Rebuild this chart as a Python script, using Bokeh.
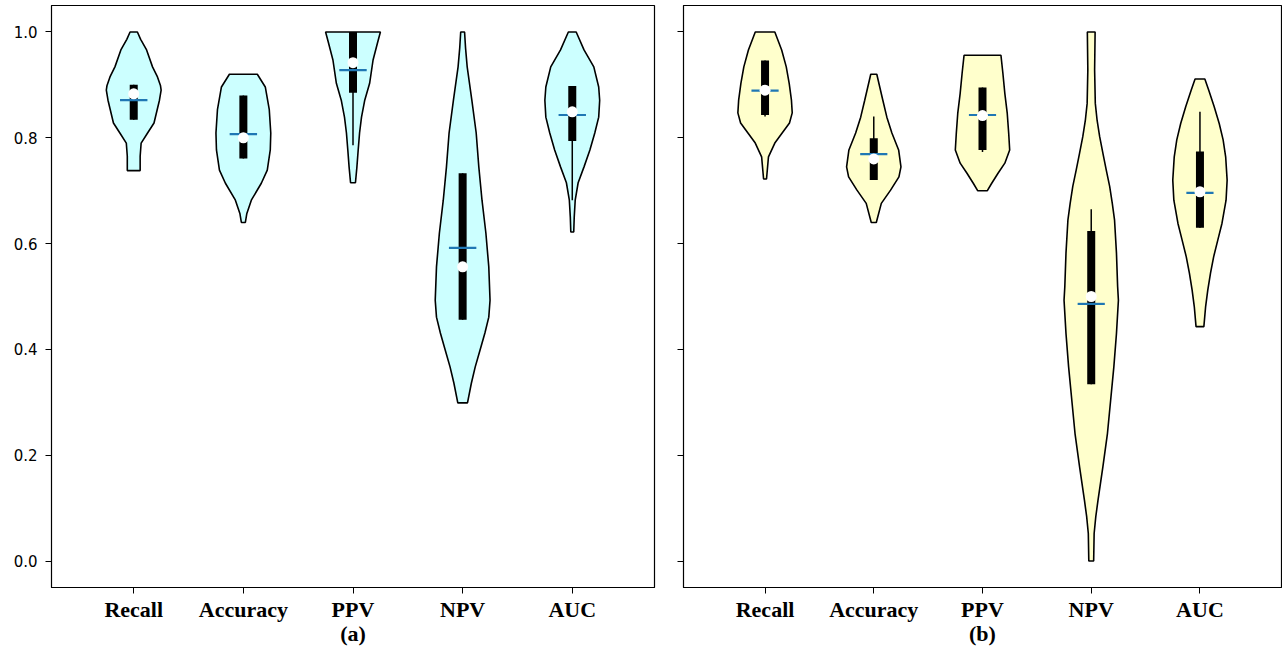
import numpy as np
from bokeh.plotting import figure
from bokeh.models import FixedTicker, PrintfTickFormatter, Range1d
from bokeh.layouts import row
from bokeh.embed import file_html
from bokeh.resources import INLINE

metrics = ["Recall", "Accuracy", "PPV", "NPV", "AUC"]
y_ticks = [0.0, 0.2, 0.4, 0.6, 0.8, 1.0]

# ---------- panel (a): violin profiles (value level, relative density) ----------
a_recall_y = [1.0, 0.986, 0.966, 0.934, 0.915, 0.899, 0.890, 0.871, 0.853, 0.828, 0.809, 0.790, 0.765, 0.738]
a_recall_d = [3.7, 7, 13, 19, 24, 27, 27.7, 26, 23.7, 20.5, 14, 7.5, 6.5, 6.5]
a_acc_y = [0.920, 0.896, 0.853, 0.809, 0.777, 0.739, 0.714, 0.682, 0.657, 0.640]
a_acc_d = [14, 22, 26, 27.5, 27, 24, 18, 8, 3.5, 2]
a_ppv_y = [1.0, 0.979, 0.947, 0.903, 0.871, 0.839, 0.809, 0.777, 0.745, 0.715]
a_ppv_d = [28, 25, 20.5, 17, 12, 8.7, 6.7, 5.3, 4, 2.5]
a_npv_y = [1.0, 0.97, 0.934, 0.871, 0.809, 0.745, 0.682, 0.620, 0.556, 0.493, 0.461, 0.431, 0.399, 0.367, 0.336, 0.299]
a_npv_d = [2, 3, 4.7, 9.5, 14, 16.7, 20, 24, 27, 28.3, 27, 23, 18, 13, 9, 5]
a_auc_y = [1.0, 0.966, 0.934, 0.896, 0.871, 0.839, 0.809, 0.777, 0.745, 0.715, 0.682, 0.650, 0.622]
a_auc_d = [4, 12, 22, 27, 28, 27, 23, 18, 12, 6, 3, 2, 1.5]

a_q1 = [0.834, 0.761, 0.885, 0.456, 0.794]
a_q3 = [0.900, 0.880, 1.000, 0.733, 0.898]
a_wlo = [0.834, 0.761, 0.786, 0.456, 0.682]
a_whi = [0.900, 0.880, 1.000, 0.733, 0.898]
a_median = [0.883, 0.800, 0.942, 0.556, 0.849]
a_mean = [0.871, 0.807, 0.928, 0.592, 0.843]

# ---------- panel (b) ----------
b_recall_y = [1.0, 0.966, 0.934, 0.903, 0.871, 0.847, 0.828, 0.809, 0.790, 0.764, 0.722]
b_recall_d = [10, 17, 21.7, 24.7, 27, 27.8, 25, 17.5, 10, 3.5, 1.5]
b_acc_y = [0.920, 0.871, 0.839, 0.809, 0.777, 0.745, 0.726, 0.701, 0.676, 0.640]
b_acc_d = [3, 9, 13, 18, 24.7, 27, 25, 16.7, 7.5, 2.5]
b_ppv_y = [0.956, 0.922, 0.884, 0.846, 0.808, 0.777, 0.752, 0.733, 0.714, 0.700]
b_ppv_d = [19, 21, 23, 25.5, 27, 28, 23, 16, 9.5, 5]
b_npv_y = [1.0, 0.928, 0.865, 0.834, 0.802, 0.771, 0.739, 0.708, 0.676, 0.645, 0.582, 0.519,
           0.493, 0.430, 0.367, 0.304, 0.241, 0.178, 0.115, 0.084, 0.052, 0.0]
b_npv_d = [4, 3.5, 4.2, 6, 8.7, 12, 15.5, 19, 21.7, 24, 26, 27.2,
           28, 26, 23.3, 20, 16.7, 12, 7, 4.7, 3, 2.5]
b_auc_y = [0.911, 0.890, 0.859, 0.827, 0.796, 0.764, 0.720, 0.682, 0.638, 0.607, 0.575, 0.544, 0.512, 0.481, 0.443]
b_auc_d = [5, 9, 14.5, 19.7, 23.7, 26.3, 27.8, 26.7, 22.5, 18.3, 14, 10.8, 8, 5.8, 4]

b_q1 = [0.843, 0.720, 0.777, 0.334, 0.630]
b_q3 = [0.946, 0.799, 0.895, 0.624, 0.774]
b_wlo = [0.840, 0.720, 0.773, 0.334, 0.630]
b_whi = [0.946, 0.840, 0.895, 0.665, 0.849]
b_median = [0.890, 0.760, 0.842, 0.500, 0.698]
b_mean = [0.889, 0.769, 0.843, 0.486, 0.696]

a_profiles = [(a_recall_y, a_recall_d), (a_acc_y, a_acc_d), (a_ppv_y, a_ppv_d),
              (a_npv_y, a_npv_d), (a_auc_y, a_auc_d)]
b_profiles = [(b_recall_y, b_recall_d), (b_acc_y, b_acc_d), (b_ppv_y, b_ppv_d),
              (b_npv_y, b_npv_d), (b_auc_y, b_auc_d)]

LABEL_FONT = "Liberation Serif"
TICK_FONT = "DejaVu Sans"


def make_panel(profiles, q1, q3, wlo, whi, med, mean, fill, caption, show_ylabels,
               width, border_left, border_right):
    p = figure(width=width, height=648,
               x_range=Range1d(0.25, 5.75), y_range=Range1d(-0.05, 1.05),
               output_backend="svg", toolbar_location=None,
               min_border_left=border_left, min_border_right=border_right,
               min_border_top=5, min_border_bottom=0,
               background_fill_color="white", border_fill_color="white")
    positions = list(range(1, len(metrics) + 1))
    for pos, (ys, ds) in zip(positions, profiles):
        ys = np.array(ys, dtype=float)
        ds = np.array(ds, dtype=float)
        hw = ds / ds.max() * 0.25
        xs = np.concatenate([pos - hw, (pos + hw)[::-1]])
        yy = np.concatenate([ys, ys[::-1]])
        p.patch(xs, yy, fill_color=fill, line_color="black", line_width=1.6)
    # whiskers
    p.segment(x0=positions, y0=wlo, x1=positions, y1=whi, line_color="black", line_width=1.5)
    # IQR boxes
    p.segment(x0=positions, y0=q1, x1=positions, y1=q3, line_color="black",
              line_width=8, line_cap="butt")
    # means
    p.segment(x0=[x - 0.125 for x in positions], y0=mean,
              x1=[x + 0.125 for x in positions], y1=mean,
              line_color="#1f77b4", line_width=2.2)
    # medians
    p.scatter(positions, med, size=11, fill_color="white", line_color=None)

    p.xgrid.visible = False
    p.ygrid.visible = False
    p.outline_line_color = "black"
    p.outline_line_width = 1.2

    xa = p.xaxis[0]
    xa.ticker = FixedTicker(ticks=positions)
    xa.major_label_overrides = {pos: m for pos, m in zip(positions, metrics)}
    xa.minor_tick_line_color = None
    xa.major_tick_out = 6
    xa.major_tick_in = 0
    xa.major_tick_line_color = "black"
    xa.axis_line_color = "black"
    xa.major_label_standoff = 3
    xa.major_label_text_font = LABEL_FONT
    xa.major_label_text_font_style = "bold"
    xa.major_label_text_font_size = "22px"
    xa.major_label_text_color = "black"
    xa.axis_label = caption
    xa.axis_label_text_font = LABEL_FONT
    xa.axis_label_text_font_style = "bold"
    xa.axis_label_text_font_size = "22px"
    xa.axis_label_text_color = "black"
    xa.axis_label_standoff = -4

    ya = p.yaxis[0]
    ya.ticker = FixedTicker(ticks=y_ticks)
    ya.formatter = PrintfTickFormatter(format="%.1f")
    ya.minor_tick_line_color = None
    ya.major_tick_out = 6
    ya.major_tick_in = 0
    ya.major_tick_line_color = "black"
    ya.axis_line_color = "black"
    ya.major_label_standoff = 8
    ya.major_label_text_font = TICK_FONT
    ya.major_label_text_font_size = "15px"
    ya.major_label_text_color = "black"
    if not show_ylabels:
        ya.major_label_overrides = {t: "" for t in y_ticks}
        ya.major_label_standoff = 0
    return p


pa = make_panel(a_profiles, a_q1, a_q3, a_wlo, a_whi, a_median, a_mean, "#ccffff", "(a)",
                True, 668, 51, 14)
pb = make_panel(b_profiles, b_q1, b_q3, b_wlo, b_whi, b_median, b_mean, "#ffffcc", "(b)",
                False, 614, 15, 1)

layout = row(pa, pb)
open("out.html", "w").write(file_html(layout, INLINE))
